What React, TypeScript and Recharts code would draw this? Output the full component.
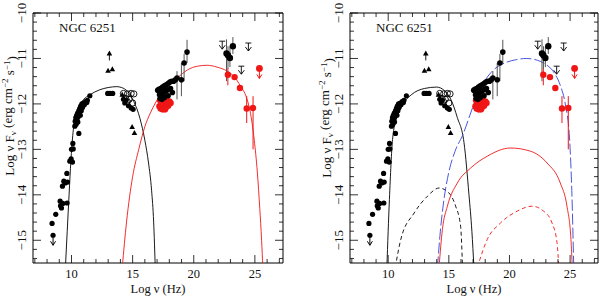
import React from "react";
import { ComposedChart, Line, Scatter, XAxis, YAxis, ErrorBar, ReferenceArea } from "recharts";

const FONT = "'Liberation Serif', 'DejaVu Serif', serif";
const RED = "#f01616";
const BLUE = "#3443d8";

// axis ranges / ticks
const X_DOMAIN = [6.85, 27.3];
const Y_DOMAIN = [-15.5, -10];
const X_TICKS = [7, 8, 9, 10, 11, 12, 13, 14, 15, 16, 17, 18, 19, 20, 21, 22, 23, 24, 25, 26, 27];
const X_MAJOR = [10, 15, 20, 25];
const Y_MAJOR = [-15, -14, -13, -12, -11, -10];
const Y_TICKS: number[] = [];
for (let i = -154; i <= -100; i += 2) Y_TICKS.push(i / 10);

type P = [number, number];
type E = [number, number, number, number]; // x, y, down, up

// observed SED points (log nu, log nuFnu)
const radioPts: P[] = [
  [8.41, -14.63], [8.71, -14.43], [9.07, -14.14], [9.1, -14.24], [9.18, -14.29], [9.29, -14.19],
  [9.64, -14.18], [9.26, -13.81], [9.37, -13.7], [9.48, -13.74], [9.67, -13.72], [9.62, -13.53],
  [9.86, -13.26], [9.97, -13.21], [10.08, -13.28], [10.0, -13.0], [10.14, -12.99], [10.11, -12.87],
  [10.27, -12.49], [10.6, -12.65], [10.3, -12.38], [10.35, -12.3], [10.42, -12.25], [10.5, -12.2],
  [10.55, -12.28], [10.6, -12.15], [10.68, -12.1], [10.75, -12.05], [10.8, -12.15], [10.85, -12.0],
  [10.9, -12.08], [11.0, -11.98], [11.05, -12.02], [11.15, -11.95], [11.25, -11.97], [11.3, -11.92],
  [11.5, -11.82], [10.45, -12.35], [10.52, -12.4], [10.38, -12.45], [10.65, -12.2], [10.72, -12.25],
];
const radioLimit: P[] = [[8.49, -14.89]];
const optPts: P[] = [
  [12.96, -11.77], [13.15, -11.77], [13.37, -11.77],
  [14.25, -11.9], [14.36, -11.98], [14.45, -11.92], [14.66, -12.04], [14.88, -12.09], [15.04, -12.12],
];
const optOpen: P[] = [
  [14.25, -11.77], [14.58, -11.78], [14.88, -11.77], [15.1, -11.78],
  [14.44, -11.88], [14.71, -11.9], [15.0, -11.98], [14.55, -11.95],
];
const triPts: P[] = [[12.99, -11.27], [13.34, -11.24], [14.96, -12.51], [15.15, -12.64], [14.15, -11.8]];
const triLimit: P[] = [[13.1, -10.89]];
const xrayBlack: P[] = [
  [17.05, -11.7], [17.15, -11.68], [17.3, -11.66], [17.45, -11.63], [17.6, -11.6], [17.75, -11.58],
  [17.9, -11.55], [18.05, -11.52], [18.2, -11.5], [18.35, -11.5], [18.5, -11.47], [17.2, -11.8],
  [17.35, -11.78], [17.5, -11.76], [17.65, -11.73], [17.8, -11.7], [17.95, -11.68], [18.1, -11.66],
  [18.25, -11.75], [17.25, -11.88], [17.4, -11.9], [17.6, -11.86], [17.9, -11.82],
];
const xrayBlackErr: E[] = [
  [18.63, -11.43, 0.47, 0.15], [18.99, -11.47, 0.36, 0.37], [19.21, -11.1, 0.4, 0.2], [19.45, -10.86, 0.24, 0.27],
];
const xrayRed: P[] = [
  [17.2, -12.05], [17.3, -12.1], [17.4, -12.02], [17.45, -12.12], [17.55, -12.06], [17.6, -11.98],
  [17.7, -12.08], [17.8, -12.0], [17.9, -12.04], [18.0, -11.95], [18.1, -11.98], [17.35, -11.95],
  [17.5, -11.9], [17.25, -11.92], [17.75, -11.9], [17.65, -12.12],
];
const gammaBlack: E[] = [
  [22.68, -10.89, 0.61, 0.31], [22.8, -10.93, 0.3, 0.2], [22.96, -10.99, 0.2, 0.25], [23.2, -10.73, 0.17, 0.2],
];
const gammaBlackLimit: P[] = [[22.33, -10.62], [24.47, -10.66], [23.89, -11.17]];
const gammaRed: E[] = [
  [22.79, -11.36, 0.23, 0.14], [23.34, -11.41, 0.04, 0.04], [23.78, -11.65, 0.05, 0.05],
  [24.33, -12.1, 0.32, 0.27], [24.85, -12.09, 0.91, 0.26],
];
const gammaRedLimit: P[] = [[25.37, -11.22]];

// model curves, left panel
const syncLeft: P[] = [
  [9.5, -15.6], [9.65, -14.8], [9.8, -14.0], [9.95, -13.25], [10.1, -12.7], [10.3, -12.3], [10.6, -12.05],
  [11.0, -11.9], [11.5, -11.8], [12.3, -11.69], [13.0, -11.64], [13.7, -11.62], [14.1, -11.64], [14.6, -11.73],
  [15.1, -11.95], [15.6, -12.32], [16.0, -12.8], [16.3, -13.3], [16.55, -13.9], [16.72, -14.6], [16.85, -15.6],
];
const icLeft: P[] = [
  [14.15, -15.6], [14.5, -14.6], [15.0, -13.6], [15.5, -13.0], [16.0, -12.5], [16.45, -12.2], [17.27, -11.8],
  [18.0, -11.55], [18.63, -11.43], [19.5, -11.25], [20.3, -11.17], [21.1, -11.15], [21.9, -11.19],
  [22.74, -11.28], [23.3, -11.4], [23.83, -11.61], [24.3, -11.85], [24.6, -12.15], [24.95, -12.8],
  [25.2, -13.5], [25.4, -14.3], [25.55, -15.0], [25.65, -15.6],
];
// model curves, right panel
const syncRight: P[] = [
  [9.89, -15.6], [10.1, -14.1], [10.36, -12.78], [10.7, -12.3], [11.1, -12.05], [11.9, -11.8], [13.0, -11.66],
  [14.0, -11.63], [14.6, -11.7], [15.2, -11.92], [15.7, -12.3], [16.25, -12.85], [16.66, -14.0], [16.9, -14.8],
  [17.07, -15.6],
];
const syncRightDash: P[] = [
  [10.58, -15.6], [11.04, -14.98], [12.14, -14.4], [13.24, -14.03], [14.19, -13.85], [15.01, -13.96],
  [15.56, -14.25], [15.97, -14.69], [16.13, -15.6],
];
const totalRight: P[] = [
  [14.06, -15.6], [14.3, -14.8], [14.6, -14.1], [15.0, -13.5], [15.5, -13.05], [16.2, -12.65], [16.8, -12.2],
  [17.3, -11.85], [17.9, -11.52], [18.7, -11.25], [19.6, -11.1], [20.5, -11.03], [21.4, -11.0], [22.3, -11.04],
  [23.0, -11.13], [23.7, -11.32], [24.2, -11.6], [24.6, -12.0], [24.95, -12.75], [25.15, -14.0], [25.3, -15.6],
];
const icRight: P[] = [
  [14.19, -15.6], [14.47, -14.76], [14.88, -14.25], [15.7, -13.74], [16.8, -13.41], [18.17, -13.15],
  [20.08, -12.97], [21.73, -13.04], [23.1, -13.3], [24.19, -13.74], [24.74, -14.25], [25.07, -14.98],
  [25.18, -15.6],
];
const icRightDash: P[] = [
  [17.35, -15.6], [18.17, -14.98], [19.26, -14.62], [20.63, -14.36], [21.86, -14.25], [22.82, -14.36],
  [23.51, -14.62], [23.92, -15.05], [24.07, -15.6],
];

const pts = (a: P[]) => a.map(([x, y]) => ({ x, y }));
const errPts = (a: E[]) => a.map(([x, y, d, u]) => ({ x, y, err: [d, u] }));

const TOP = 13;
const BOTTOM = 263;

function makeXTick() {
  return (props: any) => {
    const { x, payload } = props;
    const v = payload.value;
    const major = X_MAJOR.includes(v);
    const len = major ? 8 : 4;
    return (
      <g>
        <line x1={x} x2={x} y1={BOTTOM} y2={BOTTOM - len} stroke="#000" strokeWidth={0.8} />
        <line x1={x} x2={x} y1={TOP} y2={TOP + len} stroke="#000" strokeWidth={0.8} />
        {major && (
          <text x={x} y={BOTTOM + 15} textAnchor="middle" fontSize={12.5} fontFamily={FONT} fill="#111">
            {v}
          </text>
        )}
      </g>
    );
  };
}

function makeYTick(L: number, R: number) {
  return (props: any) => {
    const { y, payload } = props;
    const v = payload.value;
    const major = Y_MAJOR.some((m) => Math.abs(m - v) < 1e-6);
    const len = major ? 8 : 4;
    return (
      <g>
        <line x1={L} x2={L + len} y1={y} y2={y} stroke="#000" strokeWidth={0.8} />
        <line x1={R} x2={R - len} y1={y} y2={y} stroke="#000" strokeWidth={0.8} />
        {major && (
          <g transform={`translate(${L - 12},${y}) rotate(-90)`}>
            <text textAnchor="middle" dy="0.35em" fontSize={13} fontFamily={FONT} fill="#111">
              {"\u2212" + Math.abs(Math.round(v))}
            </text>
          </g>
        )}
      </g>
    );
  };
}

const dotShape = (r: number, color: string) => (p: any) => <circle cx={p.cx} cy={p.cy} r={r} fill={color} />;
const openShape = (p: any) => <circle cx={p.cx} cy={p.cy} r={3.1} fill="none" stroke="#000" strokeWidth={0.9} />;
const triShape = (p: any) => (
  <path d={`M${p.cx},${p.cy - 3}L${p.cx - 2.8},${p.cy + 2}L${p.cx + 2.8},${p.cy + 2}Z`} fill="#000" />
);
const triLimitShape = (p: any) => (
  <g>
    <path d={`M${p.cx},${p.cy - 3}L${p.cx - 2.8},${p.cy + 2}L${p.cx + 2.8},${p.cy + 2}Z`} fill="#000" />
    <line x1={p.cx} x2={p.cx} y1={p.cy} y2={p.cy + 7} stroke="#000" strokeWidth={0.9} />
  </g>
);
const ulShape = (p: any) => (
  <path
    d={`M${p.cx - 3},${p.cy}h6M${p.cx},${p.cy}v8M${p.cx - 3},${p.cy + 4}L${p.cx},${p.cy + 8}L${p.cx + 3},${p.cy + 4}`}
    fill="none"
    stroke="#000"
    strokeWidth={0.9}
  />
);
const dotLimitShape = (r: number, color: string) => (p: any) => (
  <g>
    <path
      d={`M${p.cx},${p.cy}v10M${p.cx - 2.5},${p.cy + 6}L${p.cx},${p.cy + 10}L${p.cx + 2.5},${p.cy + 6}`}
      fill="none"
      stroke={color}
      strokeWidth={1}
    />
    <circle cx={p.cx} cy={p.cy} r={r} fill={color} />
  </g>
);

function Panel({ L, R, right }: { L: number; R: number; right: boolean }) {
  const lines: { data: P[]; color: string; dash?: string }[] = right
    ? [
        { data: syncRight, color: "#000" },
        { data: syncRightDash, color: "#000", dash: "4 3" },
        { data: icRight, color: RED },
        { data: icRightDash, color: RED, dash: "4 3" },
        { data: totalRight, color: BLUE, dash: "11 3" },
      ]
    : [
        { data: syncLeft, color: "#000" },
        { data: icLeft, color: RED },
      ];
  const cx = (L + R) / 2;
  return (
    <ComposedChart width={300} height={296} margin={{ top: TOP, right: 300 - R, bottom: 0, left: 0 }}>
      <XAxis
        type="number"
        dataKey="x"
        domain={X_DOMAIN}
        ticks={X_TICKS}
        interval={0}
        allowDataOverflow
        axisLine={false}
        tickLine={false}
        tick={makeXTick()}
        height={296 - BOTTOM}
        label={() => (
          <text x={cx} y={BOTTOM + 30} textAnchor="middle" fontSize={12.5} fontFamily={FONT} fill="#111">
            Log ν (Hz)
          </text>
        )}
      />
      <YAxis
        type="number"
        dataKey="y"
        domain={Y_DOMAIN}
        ticks={Y_TICKS}
        interval={0}
        allowDataOverflow
        axisLine={false}
        tickLine={false}
        tick={makeYTick(L, R)}
        width={L}
        label={() => (
          <g transform={`translate(${L - 24},${right ? 118 : 116}) rotate(-90)`}>
            <text textAnchor="middle" dy="0.35em" fontSize={13} fontFamily={FONT} fill="#111">
              Log ν F
              <tspan fontSize={9} dy="0.3em">ν</tspan>
              <tspan dy="-0.3em"> (erg cm</tspan>
              <tspan fontSize={9} dy="-0.45em">−2</tspan>
              <tspan dy="0.45em"> s</tspan>
              <tspan fontSize={9} dy="-0.45em">−1</tspan>
              <tspan dy="0.45em">)</tspan>
            </text>
          </g>
        )}
      />
      <ReferenceArea
        x1={X_DOMAIN[0]}
        x2={X_DOMAIN[1]}
        y1={Y_DOMAIN[0]}
        y2={Y_DOMAIN[1]}
        fill="none"
        stroke="#000"
        strokeWidth={1}
        label={() => (
          <text x={L + 26} y={32} fontSize={13} fontFamily={FONT} fill="#111">
            NGC 6251
          </text>
        )}
      />
      {lines.map((c, i) => (
        <Line
          key={i}
          data={pts(c.data)}
          dataKey="y"
          type="monotone"
          stroke={c.color}
          strokeWidth={0.9}
          strokeDasharray={c.dash}
          dot={false}
          activeDot={false}
          isAnimationActive={false}
        />
      ))}
      <Scatter data={pts(xrayRed)} dataKey="y" shape={dotShape(3.3, RED)} isAnimationActive={false} />
      <Scatter data={pts(radioPts)} dataKey="y" shape={dotShape(2.6, "#000")} isAnimationActive={false} />
      <Scatter data={pts(radioLimit)} dataKey="y" shape={dotLimitShape(2.6, "#000")} isAnimationActive={false} />
      <Scatter data={pts(optPts)} dataKey="y" shape={dotShape(2.6, "#000")} isAnimationActive={false} />
      <Scatter data={pts(optOpen)} dataKey="y" shape={openShape} isAnimationActive={false} />
      <Scatter data={pts(triPts)} dataKey="y" shape={triShape} isAnimationActive={false} />
      <Scatter data={pts(triLimit)} dataKey="y" shape={triLimitShape} isAnimationActive={false} />
      <Scatter data={pts(xrayBlack)} dataKey="y" shape={dotShape(2.8, "#000")} isAnimationActive={false} />
      <Scatter data={errPts(xrayBlackErr)} dataKey="y" shape={dotShape(2.8, "#000")} isAnimationActive={false}>
        <ErrorBar dataKey="err" direction="y" width={0} stroke="#555" strokeWidth={1} />
      </Scatter>
      <Scatter data={errPts(gammaBlack)} dataKey="y" shape={dotShape(3.2, "#000")} isAnimationActive={false}>
        <ErrorBar dataKey="err" direction="y" width={0} stroke="#555" strokeWidth={1} />
      </Scatter>
      <Scatter data={pts(gammaBlackLimit)} dataKey="y" shape={ulShape} isAnimationActive={false} />
      <Scatter data={errPts(gammaRed)} dataKey="y" shape={dotShape(3.2, RED)} isAnimationActive={false}>
        <ErrorBar dataKey="err" direction="y" width={0} stroke={RED} strokeWidth={1} />
      </Scatter>
      <Scatter data={pts(gammaRedLimit)} dataKey="y" shape={dotLimitShape(3.4, RED)} isAnimationActive={false} />
    </ComposedChart>
  );
}

export default function App() {
  return (
    <div style={{ position: "absolute", left: 0, top: 0, width: 600, height: 296, display: "flex", background: "#fff" }}>
      <Panel L={33} R={283} right={false} />
      <Panel L={50} R={298} right={true} />
    </div>
  );
}
